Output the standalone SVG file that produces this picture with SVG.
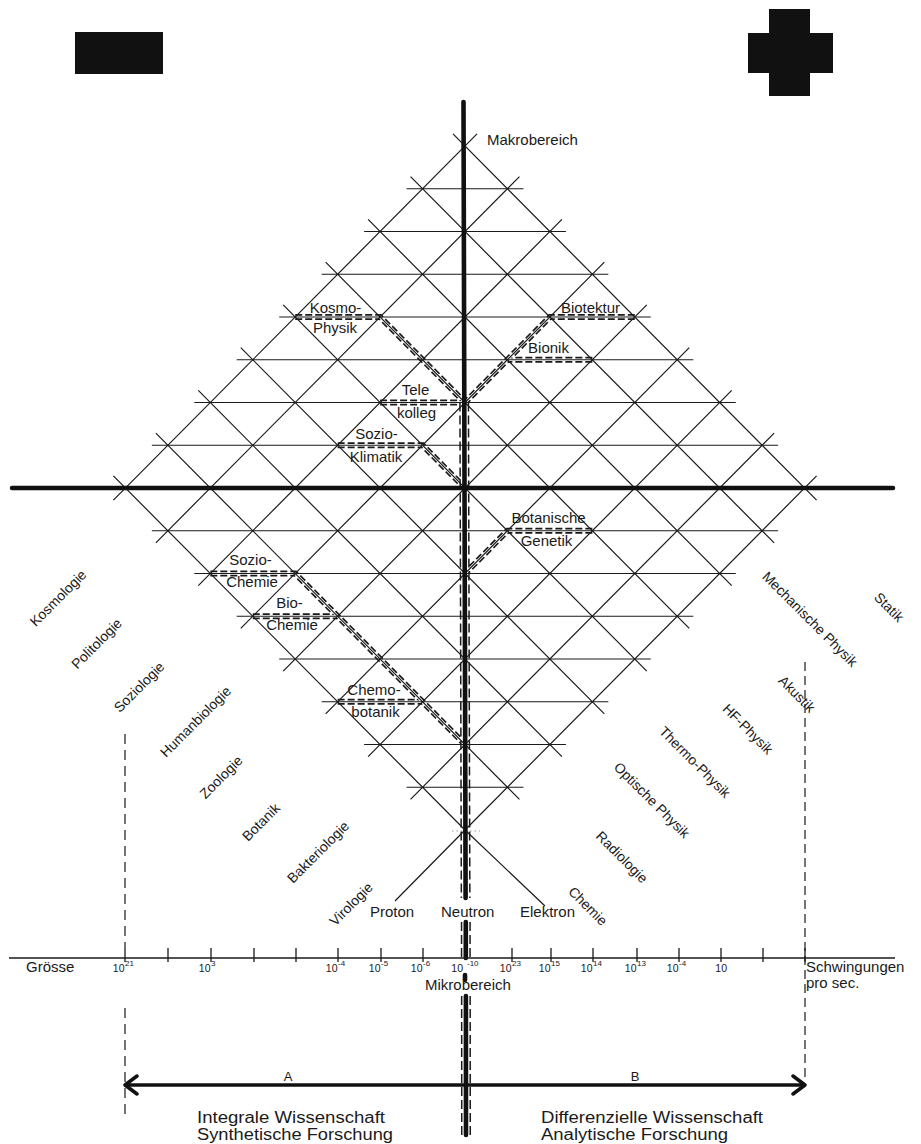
<svg xmlns="http://www.w3.org/2000/svg" width="921" height="1144" viewBox="0 0 921 1144">
<defs>
<style>
text{font-family:"Liberation Sans",Arial,sans-serif;fill:#1a1a1a}
.lb{font-size:15px}
.gl{font-size:15px;text-anchor:middle}
.rl{font-size:14px;text-anchor:middle}
.num{font-size:10.5px;text-anchor:end}
.sup{font-size:8px}
.big{font-size:16px}
.grid{fill:none;stroke:#1a1a1a;stroke-width:1.2}
.thick{fill:none;stroke:#111;stroke-linecap:round}
.dd{fill:none;stroke:#1a1a1a;stroke-width:6;stroke-dasharray:7 3}
.ddw{fill:none;stroke:#fff;stroke-width:2.6}
.dash{fill:none;stroke:#1a1a1a;stroke-width:1.2}
</style>
</defs>
<rect width="921" height="1144" fill="#fff"/>

<g id="symbol-rect"><rect x="75" y="32" width="88" height="42" fill="#111"/></g>
<g id="symbol-cross"><path d="M769 9 H810 V33 H833 V73 H810 V96 H769 V73 H748 V33 H769 Z" fill="#111"/></g>

<g id="connectors">
<path class="dd" d="M295.2 317 H380.1 L465 402.5 M634.8 317 H549.9 L465 402.5 M592.35 359.75 H507.45 M380.1 402.5 H464.2 M337.65 445.25 H422.55 L465 488 M592.35 530.75 H507.45 L465 573.5 M210.3 573.5 H295.2 L465 744.5 M252.75 616.25 H337.65 M337.65 701.75 H422.55"/>
<path class="ddw" d="M295.2 317 H380.1 L465 402.5 M634.8 317 H549.9 L465 402.5 M592.35 359.75 H507.45 M380.1 402.5 H464.2 M337.65 445.25 H422.55 L465 488 M592.35 530.75 H507.45 L465 573.5 M210.3 573.5 H295.2 L465 744.5 M252.75 616.25 H337.65 M337.65 701.75 H422.55"/>
<path d="M464.2 402.5 L465.6 898 M465.8 922 L465.8 958 M465.9 996 L466 1135" fill="none" stroke="#1a1a1a" stroke-width="10" stroke-dasharray="9 4"/>
<path d="M464.2 402.5 L465.6 898 M465.8 922 L465.8 958 M465.9 996 L466 1135" fill="none" stroke="#fff" stroke-width="7"/>
</g>

<g id="grid">
<path class="grid" d="M113.4 475.9 L465 830 M155.85 433.15 L519.45 799.35 M198.3 390.4 L561.9 756.6 M240.75 347.65 L604.35 713.85 M283.2 304.9 L646.8 671.1 M325.65 262.15 L689.25 628.35 M368.1 219.4 L731.7 585.6 M410.55 176.65 L774.15 542.85 M453 133.9 L816.6 500.1"/>
<path class="grid" d="M113.4 500.1 L477 133.9 M155.85 542.85 L519.45 176.65 M198.3 585.6 L561.9 219.4 M240.75 628.35 L604.35 262.15 M283.2 671.1 L646.8 304.9 M325.65 713.85 L689.25 347.65 M368.1 756.6 L731.7 390.4 M410.55 799.35 L774.15 433.15 M465 830 L816.6 475.9"/>
<path class="grid" d="M406.55 188.75 H523.45 M364.1 231.5 H565.9 M321.65 274.25 H608.35 M279.2 317 H650.8 M236.75 359.75 H693.25 M194.3 402.5 H735.7 M151.85 445.25 H778.15 M151.85 530.75 H778.15 M194.3 573.5 H735.7 M236.75 616.25 H693.25 M279.2 659 H650.8 M321.65 701.75 H608.35 M364.1 744.5 H565.9 M406.55 787.25 H523.45"/>
<path class="grid" d="M465 830 L395 901 M465 830 L545 906"/>
<path d="M452 831 H480" stroke="#999" stroke-width="1" stroke-dasharray="1.5 3"/>
<path class="thick" d="M12 488 H893" stroke-width="4.5"/>
<path class="thick" d="M463.5 102 L465.6 898 M465.8 922 L465.8 958 M465 975 L465 980 M465.9 996 L466 1135" stroke-width="4.6"/>
</g>

<g id="label-makro"><text class="lb" x="487" y="145">Makrobereich</text></g>
<g id="node-kosmophysik"><text class="gl" x="335.5" y="313">Kosmo-</text><text class="gl" x="335" y="333">Physik</text></g>
<g id="node-biotektur"><text class="gl" x="590.5" y="313">Biotektur</text></g>
<g id="node-bionik"><text class="gl" x="548.5" y="353">Bionik</text></g>
<g id="node-telekolleg"><text class="gl" x="415.5" y="395">Tele</text><text class="gl" x="416.5" y="418">kolleg</text></g>
<g id="node-sozioklimatik"><text class="gl" x="376.5" y="439">Sozio-</text><text class="gl" x="376" y="462">Klimatik</text></g>
<g id="node-botgenetik"><text class="gl" x="548.5" y="523">Botanische</text><text class="gl" x="546.5" y="546">Genetik</text></g>
<g id="node-soziochemie"><text class="gl" x="250.5" y="565">Sozio-</text><text class="gl" x="252" y="587">Chemie</text></g>
<g id="node-biochemie"><text class="gl" x="289.5" y="608">Bio-</text><text class="gl" x="292" y="630">Chemie</text></g>
<g id="node-chemobotanik"><text class="gl" x="374" y="695">Chemo-</text><text class="gl" x="375.5" y="717">botanik</text></g>

<g id="left-labels">
<text class="rl" transform="translate(61.5 601.5) rotate(-45)">Kosmologie</text>
<text class="rl" transform="translate(100 647) rotate(-45)">Politologie</text>
<text class="rl" transform="translate(142.5 690.5) rotate(-45)">Soziologie</text>
<text class="rl" transform="translate(199 725) rotate(-45)">Humanbiologie</text>
<text class="rl" transform="translate(224.5 780.5) rotate(-45)">Zoologie</text>
<text class="rl" transform="translate(264.5 825.5) rotate(-45)">Botanik</text>
<text class="rl" transform="translate(321.5 855.5) rotate(-45)">Bakteriologie</text>
<text class="rl" transform="translate(354.5 907.5) rotate(-45)">Virologie</text>
</g>
<g id="right-labels">
<text class="rl" transform="translate(885.5 610.5) rotate(45)">Statik</text>
<text class="rl" transform="translate(806.5 622.5) rotate(45)">Mechanische Physik</text>
<text class="rl" transform="translate(793.5 697.5) rotate(45)">Akustik</text>
<text class="rl" transform="translate(744.5 732.5) rotate(45)">HF-Physik</text>
<text class="rl" transform="translate(691.5 765.5) rotate(45)">Thermo-Physik</text>
<text class="rl" transform="translate(648.5 803.5) rotate(45)">Optische Physik</text>
<text class="rl" transform="translate(618.5 860.5) rotate(45)">Radiologie</text>
<text class="rl" transform="translate(584.5 909.5) rotate(45)">Chemie</text>
</g>
<g id="particles">
<text class="lb" x="370" y="917">Proton</text>
<text class="lb" x="441" y="917">Neutron</text>
<text class="lb" x="520" y="917">Elektron</text>
</g>

<g id="axis">
<path d="M9 958 H895" fill="none" stroke="#1a1a1a" stroke-width="1.6"/>
<path d="M125 948 V962 M168 948 V962 M211 948 V962 M254 948 V962 M296 948 V962 M338 948 V962 M381 948 V962 M423 948 V962 M512 948 V962 M551 948 V962 M593 948 V962 M637 948 V962 M679 948 V962 M721 948 V962 M763 948 V962 M805 948 V962" fill="none" stroke="#1a1a1a" stroke-width="1.3"/>
<path class="dash" d="M125 734 V948 M125 1008 V1117" stroke-dasharray="10 6"/>
<path class="dash" d="M805 662 V1080" stroke-dasharray="9 5"/>
<text class="lb" x="26" y="972">Grösse</text>
<text class="num" x="124.5" y="972">10</text><text class="sup" x="125" y="966">21</text>
<text class="num" x="210.5" y="972">10</text><text class="sup" x="211" y="966">3</text>
<text class="num" x="337.5" y="972">10</text><text class="sup" x="338" y="966">-4</text>
<text class="num" x="380.5" y="972">10</text><text class="sup" x="381" y="966">-5</text>
<text class="num" x="422.5" y="972">10</text><text class="sup" x="423" y="966">-6</text>
<text class="num" x="463" y="972">10</text><text class="sup" x="467" y="966">-10</text>
<text class="num" x="511.5" y="972">10</text><text class="sup" x="512" y="966">23</text>
<text class="num" x="550.5" y="972">10</text><text class="sup" x="551" y="966">15</text>
<text class="num" x="592.5" y="972">10</text><text class="sup" x="593" y="966">14</text>
<text class="num" x="636.5" y="972">10</text><text class="sup" x="637" y="966">13</text>
<text class="num" x="678.5" y="972">10</text><text class="sup" x="679" y="966">-4</text>
<text class="num" x="727" y="972">10</text>
<text class="lb" x="806" y="972">Schwingungen</text>
<text class="lb" x="806" y="988">pro sec.</text>
<text class="lb" x="425" y="990">Mikrobereich</text>
</g>

<g id="arrow">
<path d="M125 1085 H805" fill="none" stroke="#111" stroke-width="3.5"/>
<path d="M137 1076 L125 1085 L137 1094 M793 1076 L805 1085 L793 1094" fill="none" stroke="#111" stroke-width="3.5" stroke-linecap="round" stroke-linejoin="round"/>
<text style="font-size:13px" x="288" y="1081" text-anchor="middle">A</text>
<text style="font-size:13px" x="635" y="1081" text-anchor="middle">B</text>
</g>
<g id="label-integral"><text class="big" x="197" y="1123" textLength="188" lengthAdjust="spacingAndGlyphs">Integrale Wissenschaft</text><text class="big" x="197" y="1140" textLength="196" lengthAdjust="spacingAndGlyphs">Synthetische Forschung</text></g>
<g id="label-differential"><text class="big" x="541" y="1123" textLength="222" lengthAdjust="spacingAndGlyphs">Differenzielle Wissenschaft</text><text class="big" x="541" y="1140" textLength="187" lengthAdjust="spacingAndGlyphs">Analytische Forschung</text></g>
</svg>
